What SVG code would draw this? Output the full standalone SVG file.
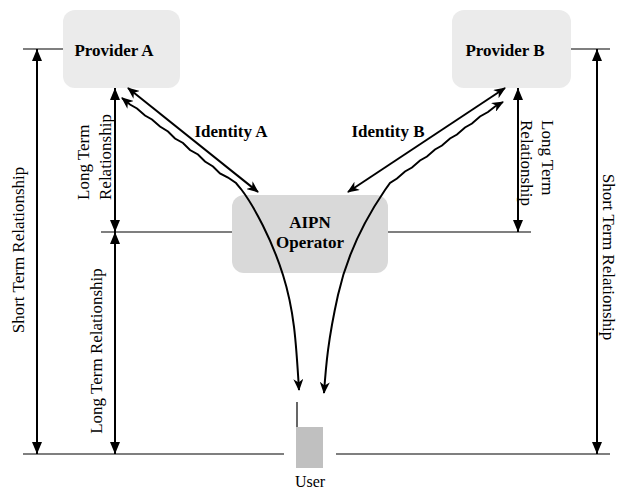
<svg xmlns="http://www.w3.org/2000/svg" width="618" height="489" viewBox="0 0 618 489">
<style>
text{font-family:'Liberation Serif','Times New Roman',Times,serif;font-size:17px;fill:#000}
.b{font-weight:bold}
.thin{stroke:#000;stroke-width:1.2;fill:none}
.con{stroke:#000;stroke-width:2;fill:none}
</style>
<defs>
<marker id="ah" viewBox="0 0 12 10" refX="11" refY="5" markerWidth="12" markerHeight="10" markerUnits="userSpaceOnUse" orient="auto-start-reverse">
<path d="M0,0 L12,5 L0,10 L3.5,5 Z" fill="#000"/>
</marker>
<marker id="tri" viewBox="0 0 12 10" refX="12" refY="5" markerWidth="12" markerHeight="10" markerUnits="userSpaceOnUse" orient="auto-start-reverse">
<path d="M0,0 L12,5 L0,10 Z" fill="#000"/>
</marker>
</defs>
<rect width="618" height="489" fill="#fff"/>

<g id="providerA">
<rect x="63" y="10" width="117" height="78" rx="12" fill="#ebebeb"/>
<text class="b" x="114" y="56" text-anchor="middle">Provider A</text>
</g>
<g id="providerB">
<rect x="452" y="10" width="119" height="78" rx="12" fill="#ebebeb"/>
<text class="b" x="505" y="56" text-anchor="middle">Provider B</text>
</g>
<g id="aipn">
<rect x="232" y="195" width="156" height="78" rx="12" fill="#d9d9d9"/>
<text class="b" x="310" y="228" text-anchor="middle">AIPN</text>
<text class="b" x="310" y="248" text-anchor="middle">Operator</text>
</g>
<g id="user">
<rect x="296" y="427" width="27" height="41" fill="#c0c0c0"/>
<line class="thin" x1="297" y1="402" x2="297" y2="427"/>
<text x="310" y="487" text-anchor="middle" style="font-size:16px">User</text>
</g>

<g id="connectors">
<line class="thin" x1="23" y1="49" x2="63" y2="49"/>
<line class="thin" x1="571" y1="49" x2="610" y2="49"/>
<line class="thin" x1="101" y1="232" x2="232" y2="232"/>
<line class="thin" x1="388" y1="232" x2="531" y2="232"/>
<line class="thin" x1="23" y1="454" x2="284" y2="454"/>
<line class="thin" x1="336" y1="454" x2="610" y2="454"/>
<line class="con" x1="37" y1="49" x2="37" y2="454" marker-start="url(#tri)" marker-end="url(#tri)"/>
<line class="con" x1="597" y1="49" x2="597" y2="454" marker-start="url(#tri)" marker-end="url(#tri)"/>
<line class="con" x1="115" y1="88" x2="115" y2="232" marker-start="url(#tri)" marker-end="url(#tri)"/>
<line class="con" x1="115" y1="232" x2="115" y2="454" marker-start="url(#tri)" marker-end="url(#tri)"/>
<line class="con" x1="518" y1="88" x2="518" y2="232" marker-start="url(#tri)" marker-end="url(#tri)"/>
<line class="con" x1="128" y1="88" x2="258" y2="192" marker-start="url(#ah)" marker-end="url(#ah)"/>
<line class="con" x1="505" y1="88" x2="348" y2="192" marker-start="url(#ah)" marker-end="url(#ah)"/>
<path class="con" marker-start="url(#ah)" marker-end="url(#ah)" d="M122,98 L130,104.5 L137,108.5 L145,115.5 L152,119.5 L160,126.5 L168,131.5 L175,138.5 L183,143 L190,150 L198,154.5 L205,161.5 L213,166.5 L220,173.5 L228,177.5 L236,183 L241,189 C254,206 272,240 283,275 S296,340 299,390"/>
<path class="con" marker-start="url(#ah)" marker-end="url(#ah)" d="M503,102 L495,106.5 L488,112 L480,116.5 L472,123.5 L465,127.5 L457,134.5 L450,138.5 L442,145.5 L435,149.5 L427,156.5 L420,160.5 L412,167.5 L405,171.5 L397,178.5 L390,183 L385,190 C370,212 348,250 338,295 S326,365 324,393"/>
</g>

<g id="labels">
<text class="b" x="231" y="137" text-anchor="middle">Identity A</text>
<text class="b" x="388" y="137" text-anchor="middle">Identity B</text>
<text transform="translate(89,200) rotate(-90)">Long Term</text>
<text transform="translate(111,200) rotate(-90)">Relationship</text>
<text transform="translate(102,351) rotate(-90)" text-anchor="middle">Long Term Relationship</text>
<text transform="translate(24,250) rotate(-90)" text-anchor="middle">Short Term Relationship</text>
<text transform="translate(542,120) rotate(90)">Long Term</text>
<text transform="translate(521,120) rotate(90)">Relationship</text>
<text transform="translate(603,257) rotate(90)" text-anchor="middle">Short Term Relationship</text>
</g>
</svg>
